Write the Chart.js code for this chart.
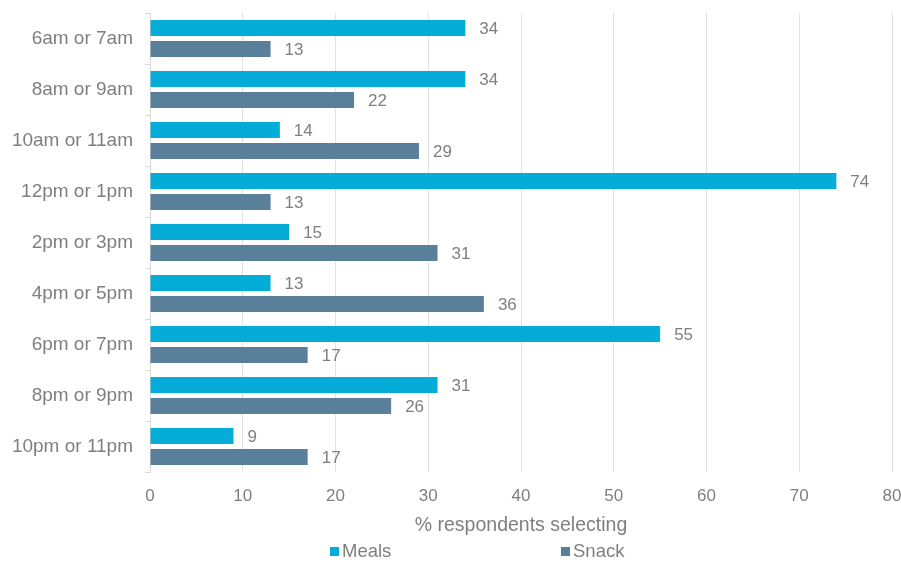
<!DOCTYPE html>
<html>
<head>
<meta charset="utf-8">
<script src="https://cdn.jsdelivr.net/npm/chart.js@4/dist/chart.umd.min.js"></script>
<style>
  body { margin: 0; background: #fff; }
  #wrap { width: 901px; height: 562px; }
</style>
</head>
<body>
<div id="wrap"><canvas id="chart" width="901" height="562"></canvas></div>
<script>
const categories = [
  "6am or 7am", "8am or 9am", "10am or 11am", "12pm or 1pm", "2pm or 3pm",
  "4pm or 5pm", "6pm or 7pm", "8pm or 9pm", "10pm or 11pm"
];
const meals = [34, 34, 14, 74, 15, 13, 55, 31, 9];
const snack = [13, 22, 29, 13, 31, 36, 17, 26, 17];
const xTicks = [0, 10, 20, 30, 40, 50, 60, 70, 80];

const MEALS_COLOR = "#06acd8";
const SNACK_COLOR = "#5a7f9b";
const TEXT_COLOR = "#7f7f7f";
const FONT = "'Liberation Sans', Arial, sans-serif";

// value printed just past the end of each bar
const barValues = {
  id: "barValues",
  afterDatasetsDraw(chart) {
    const ctx = chart.ctx;
    ctx.save();
    ctx.font = "17px " + FONT;
    ctx.fillStyle = TEXT_COLOR;
    ctx.textAlign = "left";
    ctx.textBaseline = "middle";
    chart.data.datasets.forEach((ds, i) => {
      chart.getDatasetMeta(i).data.forEach((bar, j) => {
        ctx.fillText(String(ds.data[j]), bar.x + 14, bar.y + 1);
      });
    });
    ctx.restore();
  }
};

// widely spaced legend under the axis title
const spreadLegend = {
  id: "spreadLegend",
  afterDraw(chart) {
    const ctx = chart.ctx;
    const y = 552;
    const spots = [330, 561];
    ctx.save();
    ctx.font = "18.5px " + FONT;
    ctx.textBaseline = "middle";
    ctx.textAlign = "left";
    chart.data.datasets.forEach((ds, i) => {
      const x = spots[i];
      ctx.fillStyle = ds.backgroundColor;
      ctx.fillRect(x, y - 5, 9, 9);
      ctx.fillStyle = TEXT_COLOR;
      ctx.fillText(ds.label, x + 12, y);
    });
    ctx.restore();
  }
};

new Chart(document.getElementById("chart"), {
  type: "bar",
  data: {
    labels: categories,
    datasets: [
      { label: "Meals", data: meals, backgroundColor: MEALS_COLOR },
      { label: "Snack", data: snack, backgroundColor: SNACK_COLOR }
    ]
  },
  options: {
    indexAxis: "y",
    responsive: false,
    animation: false,
    categoryPercentage: 0.82,
    barPercentage: 0.76,
    layout: { padding: { top: 13, right: 9, bottom: 24, left: 0 } },
    plugins: {
      legend: { display: false },
      tooltip: { enabled: false }
    },
    scales: {
      x: {
        min: 0,
        max: 80,
        afterBuildTicks(scale) {
          scale.ticks = xTicks.map(v => ({ value: v }));
        },
        afterFit(scale) {
          scale.height = 66;
          scale.paddingLeft = 0;
          scale.paddingRight = 0;
        },
        grid: { color: "#e2e2e2", drawTicks: false },
        border: { display: false },
        ticks: {
          padding: 14,
          color: TEXT_COLOR,
          font: { family: FONT, size: 17 }
        },
        title: {
          display: true,
          text: "% respondents selecting",
          color: TEXT_COLOR,
          font: { family: FONT, size: 19.5 },
          padding: { top: 0, bottom: 1 }
        }
      },
      y: {
        afterFit(scale) {
          scale.width = 150;
          scale.paddingTop = 0;
          scale.paddingBottom = 0;
        },
        grid: { drawOnChartArea: false, color: "#d9d9d9", tickLength: 5 },
        border: { color: "#d9d9d9" },
        ticks: {
          padding: 12,
          color: TEXT_COLOR,
          font: { family: FONT, size: 19 }
        }
      }
    }
  },
  plugins: [barValues, spreadLegend]
});
</script>
</body>
</html>
